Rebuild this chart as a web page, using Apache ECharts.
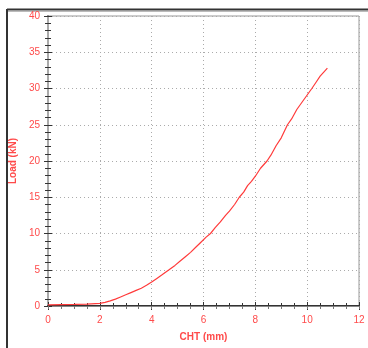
<!DOCTYPE html>
<html>
<head>
<meta charset="utf-8">
<script src="https://cdn.jsdelivr.net/npm/echarts@6/dist/echarts.min.js"></script>
<style>
  html, body { margin: 0; padding: 0; background: #fff; }
  #chart { width: 368px; height: 348px; }
</style>
</head>
<body>
<div id="chart"></div>
<script>
// Load vs. crosshead travel measurement
const cht = [0, 0.5, 1, 1.5, 2, 2.2, 2.4, 2.6, 2.8, 3.0, 3.2, 3.4, 3.6, 3.8, 4.0, 4.2, 4.4,
  4.67, 4.9, 5.1, 5.3, 5.5, 5.7, 5.9, 6.1, 6.27, 6.45, 6.65, 6.85, 7.0, 7.2, 7.38, 7.55,
  7.7, 7.85, 8.0, 8.2, 8.45, 8.6, 8.8, 9.0, 9.24, 9.4, 9.6, 9.8, 10.0, 10.18, 10.35, 10.5,
  10.65, 10.78];
const load = [0.15, 0.2, 0.22, 0.26, 0.37, 0.5, 0.7, 0.95, 1.25, 1.55, 1.85, 2.15, 2.45,
  2.85, 3.3, 3.8, 4.3, 5.0, 5.6, 6.2, 6.8, 7.4, 8.1, 8.8, 9.5, 10.0, 10.8, 11.6, 12.5,
  13.1, 14.0, 15.0, 15.7, 16.6, 17.2, 17.9, 19.0, 20.0, 20.8, 22.1, 23.2, 25.0, 25.8,
  27.1, 28.1, 29.1, 30.0, 30.9, 31.7, 32.3, 32.8];
const xTicks = [0, 2, 4, 6, 8, 10, 12];
const yTicks = [0, 5, 10, 15, 20, 25, 30, 35, 40];

const RED = '#ff4a4a';
const AXIS = '#333';
const FONT = 'Liberation Sans, Arial, sans-serif';

const xMin = xTicks[0], xMax = xTicks[xTicks.length - 1], xStep = xTicks[1] - xTicks[0];
const yMin = yTicks[0], yMax = yTicks[yTicks.length - 1], yStep = yTicks[1] - yTicks[0];

const chart = echarts.init(document.getElementById('chart'), null, { renderer: 'canvas' });

const baseX = { type: 'value', min: xMin, max: xMax, interval: xStep, gridIndex: 0 };
const baseY = { type: 'value', min: yMin, max: yMax, interval: yStep, gridIndex: 0 };

chart.setOption({
  animation: false,
  grid: {
    left: 47, top: 16, right: 9, bottom: 42,
    show: true, borderColor: '#999', borderWidth: 1, backgroundColor: '#fff'
  },
  xAxis: [
    Object.assign({}, baseX, {
      position: 'bottom',
      name: 'CHT (mm)', nameLocation: 'middle', nameGap: 26,
      nameTextStyle: { color: RED, fontFamily: FONT, fontSize: 10, fontWeight: 'bold' },
      axisLine: { show: true, lineStyle: { color: AXIS, width: 2 } },
      axisTick: { show: true, inside: false, length: 4, lineStyle: { color: AXIS, width: 1 } },
      minorTick: { show: true, splitNumber: 4, length: 3, lineStyle: { color: AXIS, width: 1 } },
      axisLabel: { color: RED, fontFamily: FONT, fontSize: 10, margin: 9 },
      splitLine: { show: true, lineStyle: { color: '#aaa', type: [1, 3], width: 1 } }
    }),
    // inward halves of the bottom ticks so they cross the axis line
    Object.assign({}, baseX, {
      position: 'bottom',
      axisLine: { show: false },
      axisTick: { show: true, inside: true, length: 4, lineStyle: { color: AXIS, width: 1 } },
      minorTick: { show: true, splitNumber: 4, length: 3, lineStyle: { color: AXIS, width: 1 } },
      axisLabel: { show: false },
      splitLine: { show: false }
    }),
    // top edge with small inward ticks
    Object.assign({}, baseX, {
      position: 'top',
      axisLine: { show: true, lineStyle: { color: '#888', width: 1 } },
      axisTick: { show: true, inside: true, length: 3, lineStyle: { color: '#777', width: 1 } },
      minorTick: { show: true, splitNumber: 4, length: 3, lineStyle: { color: '#777', width: 1 } },
      axisLabel: { show: false },
      splitLine: { show: false }
    })
  ],
  yAxis: [
    Object.assign({}, baseY, {
      position: 'left',
      name: 'Load (kN)', nameLocation: 'middle', nameGap: 23, nameRotate: 90,
      nameTextStyle: { color: RED, fontFamily: FONT, fontSize: 10, fontWeight: 'bold' },
      axisLine: { show: true, lineStyle: { color: AXIS, width: 2 } },
      axisTick: { show: true, inside: false, length: 4, lineStyle: { color: AXIS, width: 1 } },
      minorTick: { show: true, splitNumber: 5, length: 3, lineStyle: { color: AXIS, width: 1 } },
      axisLabel: { color: RED, fontFamily: FONT, fontSize: 10, margin: 8 },
      splitLine: { show: true, lineStyle: { color: '#aaa', type: [1, 3], width: 1 } }
    }),
    Object.assign({}, baseY, {
      position: 'left',
      axisLine: { show: false },
      axisTick: { show: true, inside: true, length: 4, lineStyle: { color: AXIS, width: 1 } },
      minorTick: { show: true, splitNumber: 5, length: 3, lineStyle: { color: AXIS, width: 1 } },
      axisLabel: { show: false },
      splitLine: { show: false }
    }),
    // right edge with a soft shadow line
    Object.assign({}, baseY, {
      position: 'right',
      axisLine: { show: true, lineStyle: { color: '#aaa', width: 2 } },
      axisTick: { show: false },
      axisLabel: { show: false },
      splitLine: { show: false }
    })
  ],
  series: [{
    type: 'line',
    xAxisIndex: 0, yAxisIndex: 0,
    data: cht.map((x, i) => [x, load[i]]),
    showSymbol: false,
    smooth: false,
    lineStyle: { color: '#ff3b3b', width: 1.2 },
    z: 5
  }],
  graphic: [
    // outer frame around the whole figure
    { type: 'line', shape: { x1: 7, y1: 9.5, x2: 368, y2: 9.5 }, style: { stroke: '#333', lineWidth: 2 } },
    { type: 'line', shape: { x1: 8, y1: 11.5, x2: 368, y2: 11.5 }, style: { stroke: '#bbb', lineWidth: 1 } },
    { type: 'line', shape: { x1: 7, y1: 9, x2: 7, y2: 348 }, style: { stroke: '#333', lineWidth: 2 } }
  ]
});
</script>
</body>
</html>
